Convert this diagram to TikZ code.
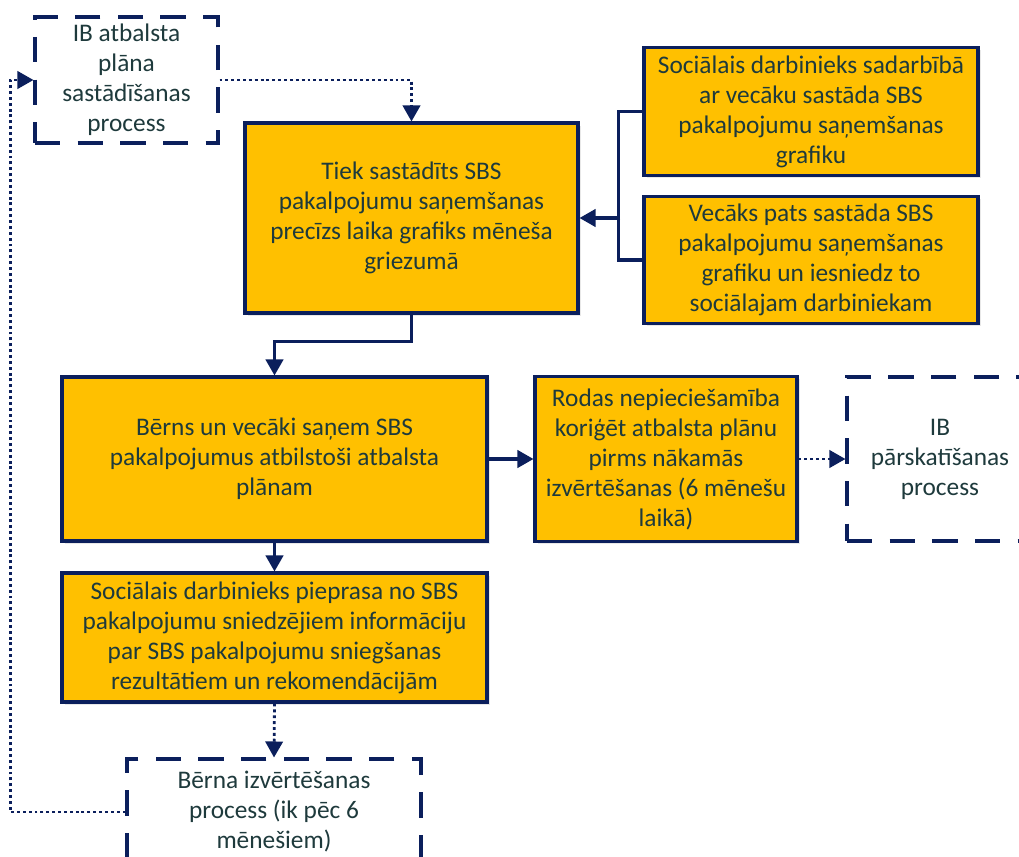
\documentclass[tikz,border=0pt]{standalone}
\usepackage{fontspec}
\setmainfont{Carlito}
\usetikzlibrary{arrows.meta,positioning,calc,shadows}
\definecolor{Amber}{HTML}{FFC000}
\definecolor{Navy}{HTML}{0B1F5C}
\definecolor{Slate}{HTML}{1E3A3C}

\begin{document}
\begin{tikzpicture}[x=0.75pt,y=-0.75pt,>={Triangle[length=12pt,width=13pt]},every node/.style={font=\fontsize{19}{22.5}\selectfont,text=Slate,align=center,inner sep=0pt},stepbox/.style={draw=Navy,fill=Amber,line width=2.3pt,drop shadow={opacity=0.18,shadow xshift=2pt,shadow yshift=-2pt}},procbox/.style={draw=Navy,fill=white,line width=2.3pt,dash pattern=on 19pt off 13pt},flow/.style={draw=Navy,line width=2.3pt},link/.style={->,flow},dotlink/.style={->,draw=Navy,line width=2.1pt,dash pattern=on 2.2pt off 2.2pt}]
\clip (0,0) rectangle (1019,856);
\fill[white] (0,0) rectangle (1019,856);
\node[procbox,minimum width=183*0.75pt,minimum height=126*0.75pt](ibplan) at (126.5,80){IB atbalsta\\plāna\\sastādīšanas\\process};
\node[stepbox,minimum width=333*0.75pt,minimum height=190*0.75pt](grafiks) at (411.5,218){Tiek sastādīts SBS\\pakalpojumu saņemšanas\\precīzs laika grafiks mēneša\\griezumā};
\node[stepbox,minimum width=334*0.75pt,minimum height=128*0.75pt](sadarb) at (811,111.5){Sociālais darbinieks sadarbībā\\ar vecāku sastāda SBS\\pakalpojumu saņemšanas\\grafiku};
\node[stepbox,minimum width=334*0.75pt,minimum height=127*0.75pt](vecaks) at (811,260){Vecāks pats sastāda SBS\\pakalpojumu saņemšanas\\grafiku un iesniedz to\\sociālajam darbiniekam};
\node[stepbox,minimum width=425*0.75pt,minimum height=164*0.75pt](sanem) at (274.5,459){Bērns un vecāki saņem SBS\\pakalpojumus atbilstoši atbalsta\\plānam};
\node[stepbox,minimum width=262*0.75pt,minimum height=165*0.75pt](korig) at (666,459){Rodas nepieciešamība\\koriģēt atbalsta plānu\\pirms nākamās\\izvērtēšanas (6 mēnešu\\laikā)};
\node[procbox,minimum width=186*0.75pt,minimum height=164*0.75pt](ibpars) at (940,459){IB\\pārskatīšanas\\process};
\node[stepbox,minimum width=425*0.75pt,minimum height=129*0.75pt](pieprasa) at (274.5,637.5){Sociālais darbinieks pieprasa no SBS\\pakalpojumu sniedzējiem informāciju\\par SBS pakalpojumu sniegšanas\\rezultātiem un rekomendācijām};
\node[procbox,minimum width=294*0.75pt,minimum height=106*0.75pt](izvert) at (274,812){Bērna izvērtēšanas\\process (ik pēc 6\\mēnešiem)};
\coordinate (brk) at (620,218);
\draw[dotlink](ibplan.east) -| (grafiks.north);
\draw[flow](sadarb.west) -- ++(-24,0) |- (vecaks.west);
\draw[link](brk) -- (grafiks.east);
\draw[link](grafiks.south) -- ++(0,27) -| (sanem.north);
\draw[link](sanem.east) -- (korig.west);
\draw[dotlink](korig.east) -- (ibpars.west);
\draw[link](sanem.south) -- (pieprasa.north);
\draw[dotlink](pieprasa.south) -- (izvert.north);
\draw[dotlink](izvert.west) -- ++(-115,0) |- (ibplan.west);
\end{tikzpicture}
\end{document}
